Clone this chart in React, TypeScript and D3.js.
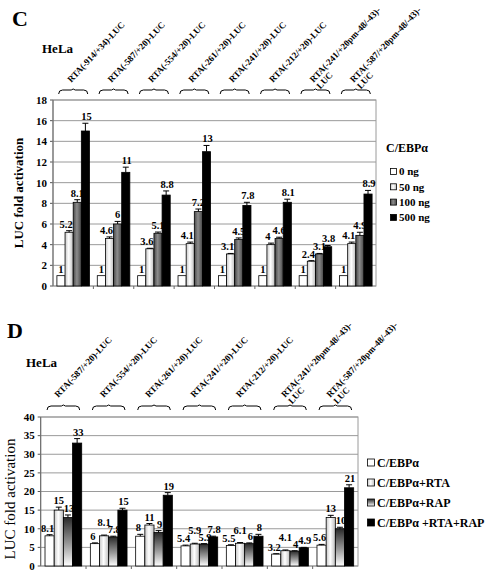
import React from "react";
import * as d3 from "d3";

const FONT = "Liberation Serif, Tinos, Times New Roman, Times, serif";

// Panel C data
const cGroups = [
  "RTA(-914/+34)-LUC",
  "RTA(-587/+20)-LUC",
  "RTA(-554/+20)-LUC",
  "RTA(-261/+20)-LUC",
  "RTA(-241/+20)-LUC",
  "RTA(-212/+20)-LUC",
  "RTA(-241/+20pm-48/-43)-|LUC",
  "RTA(-587/+20pm-48/-43)-|LUC",
];
const cSeries = ["0 ng", "50 ng", "100 ng", "500 ng"];
const c0 = [1, 1, 1, 1, 1, 1, 1, 1];
const c50 = [5.2, 4.6, 3.6, 4.1, 3.1, 4, 2.4, 4.1];
const c100 = [8.1, 6, 5.1, 7.2, 4.5, 4.6, 3.1, 4.9];
const c500 = [15, 11, 8.8, 13, 7.8, 8.1, 3.8, 8.9];
const c0Err = [0, 0, 0, 0, 0, 0, 0, 0];
const c50Err = [0.15, 0.15, 0.05, 0.15, 0.05, 0.15, 0.05, 0.15];
const c100Err = [0.25, 0.25, 0.12, 0.25, 0.15, 0.12, 0.05, 0.3];
const c500Err = [0.75, 0.5, 0.4, 0.6, 0.3, 0.3, 0.12, 0.35];
const cTicks = [0, 2, 4, 6, 8, 10, 12, 14, 16, 18];

// Panel D data
const dGroups = [
  "RTA(-587/+20)-LUC",
  "RTA(-554/+20)-LUC",
  "RTA(-261/+20)-LUC",
  "RTA(-241/+20)-LUC",
  "RTA(-212/+20)-LUC",
  "RTA(-241/+20pm-48/-43)-|LUC",
  "RTA(-587/+20pm-48/-43)-|LUC",
];
const dSeries = ["C/EBPα", "C/EBPα+RTA", "C/EBPα+RAP", "C/EBPα +RTA+RAP"];
const dA = [8.1, 6, 8, 5.4, 5.5, 3.2, 5.6];
const dB = [15, 8.1, 11, 5.9, 6.1, 4.1, 13];
const dC = [13, 7.8, 9, 5.9, 6, 4, 10];
const dD = [33, 15, 19, 7.8, 8, 4.9, 21];
const dAErr = [0.3, 0.2, 0.5, 0.2, 0.2, 0.1, 0.2];
const dBErr = [0.8, 0.2, 0.4, 0.2, 0.2, 0.2, 0.6];
const dCErr = [0.7, 0.2, 0.5, 0.1, 0.2, 0.1, 0.4];
const dDErr = [1.2, 0.5, 0.7, 0.2, 0.5, 0.1, 0.8];
const dTicks = [0, 5, 10, 15, 20, 25, 30, 35, 40];

type PanelProps = {
  groups: string[];
  series: string[];
  values: number[][];
  errs: number[][];
  ticks: number[];
  fills: string[];
  x0: number;
  x1: number;
  yTop: number;
  yBot: number;
  yMax: number;
  bracketY: number;
  labelY: number;
  labelDx: number;
  pad: number;
  valDx: number[];
  raise: (si: number, gi: number) => number;
};

const txt = { fontFamily: FONT, fontWeight: 700 as const };

function Panel(p: PanelProps) {
  const x = d3.scaleBand<string>().domain(p.groups).range([p.x0, p.x1]).padding(0);
  const xi = d3
    .scaleBand<string>()
    .domain(p.series)
    .range([0, x.bandwidth()])
    .paddingInner(0)
    .paddingOuter(p.pad);
  const y = d3.scaleLinear().domain([0, p.yMax]).range([p.yBot, p.yTop]);
  const bw = xi.bandwidth();
  const brW = x.bandwidth() * 0.72;
  return (
    <g>
      {p.ticks.map((t) => (
        <g key={t}>
          <line x1={p.x0} x2={p.x1} y1={y(t)} y2={y(t)} stroke="#9a9a9a" strokeWidth={1} />
          <line x1={p.x0 - 3} x2={p.x0} y1={y(t)} y2={y(t)} stroke="#555" />
          <text x={p.x0 - 6} y={y(t)} dy="0.35em" textAnchor="end" style={txt} fontSize={11}>
            {t}
          </text>
        </g>
      ))}
      <rect
        x={p.x0}
        y={p.yTop}
        width={p.x1 - p.x0}
        height={p.yBot - p.yTop}
        fill="none"
        stroke="#9a9a9a"
      />
      <line x1={p.x0} x2={p.x0} y1={p.yTop} y2={p.yBot} stroke="#666" />
      {p.groups.map((g, gi) => {
        const gx = x(g)!;
        const cx = gx + x.bandwidth() / 2;
        const lines = g.split("|");
        const L = cx - brW / 2;
        const R = cx + brW / 2;
        const by = p.bracketY;
        return (
          <g key={g}>
            {gi > 0 && <line x1={gx} x2={gx} y1={p.yBot} y2={p.yBot + 3} stroke="#666" />}
            <path
              d={`M${L},${by + 4} Q${L},${by} ${L + 4},${by} L${cx - 2},${by} L${cx},${by - 1} L${cx + 2},${by} L${R - 4},${by} Q${R},${by} ${R},${by + 4}`}
              fill="none"
              stroke="#000"
              strokeWidth={1}
            />
            <text
              transform={`translate(${cx + p.labelDx},${p.labelY}) rotate(-47)`}
              style={txt}
              fontSize={9}
            >
              {lines.map((l, li) => (
                <tspan key={li} x={0} dy={li === 0 ? 0 : "1.05em"}>
                  {l}
                </tspan>
              ))}
            </text>
            {p.series.map((s, si) => {
              const v = p.values[si][gi];
              const e = p.errs[si][gi];
              const bx = gx + xi(s)!;
              return (
                <g key={s}>
                  <rect
                    x={bx}
                    y={y(v)}
                    width={bw}
                    height={p.yBot - y(v)}
                    fill={p.fills[si]}
                    stroke="#000"
                    strokeWidth={0.8}
                  />
                  {e > 0 && (
                    <path
                      d={`M${bx + bw / 2},${y(v)} V${y(v + e)} M${bx + bw / 2 - 3},${y(v + e)} H${bx + bw / 2 + 3}`}
                      stroke="#000"
                      strokeWidth={1}
                      fill="none"
                    />
                  )}
                  <text
                    x={bx + bw / 2 + p.valDx[si]}
                    y={y(v + e) - 3 - p.raise(si, gi)}
                    textAnchor="middle"
                    style={txt}
                    fontSize={10.5}
                  >
                    {v}
                  </text>
                </g>
              );
            })}
          </g>
        );
      })}
    </g>
  );
}

export default function App() {
  const cFills = ["#fff", "url(#lightH)", "url(#darkH)", "#000"];
  const dFills = ["#fff", "url(#lightH)", "url(#rapV)", "#000"];
  return (
    <svg
      width={485}
      height={574}
      style={{ position: "absolute", left: 0, top: 0, background: "#fff" }}
    >
      <defs>
        <linearGradient id="lightH" x1="0" x2="1" y1="0" y2="0">
          <stop offset="0" stopColor="#c8c8c8" />
          <stop offset="0.45" stopColor="#ffffff" />
          <stop offset="1" stopColor="#bdbdbd" />
        </linearGradient>
        <linearGradient id="darkH" x1="0" x2="1" y1="0" y2="0">
          <stop offset="0" stopColor="#4a4a4a" />
          <stop offset="0.45" stopColor="#8c8c8c" />
          <stop offset="1" stopColor="#474747" />
        </linearGradient>
        <linearGradient id="rapV" x1="0" x2="0" y1="0" y2="1">
          <stop offset="0" stopColor="#2a2a2a" />
          <stop offset="0.55" stopColor="#9a9a9a" />
          <stop offset="1" stopColor="#ffffff" />
        </linearGradient>
      </defs>
      <rect width={485} height={574} fill="#fff" />

      {/* Panel C */}
      <text x={12} y={26} style={txt} fontSize={22}>
        C
      </text>
      <text x={42} y={53} style={txt} fontSize={13}>
        HeLa
      </text>
      <text transform="translate(23,193) rotate(-90)" textAnchor="middle" style={txt} fontSize={13}>
        LUC fold activation
      </text>
      <Panel
        groups={cGroups}
        series={cSeries}
        values={[c0, c50, c100, c500]}
        errs={[c0Err, c50Err, c100Err, c500Err]}
        ticks={cTicks}
        fills={cFills}
        x0={53}
        x1={376}
        yTop={100}
        yBot={286}
        yMax={18}
        bracketY={90}
        labelY={83}
        labelDx={-2}
        pad={0.48}
        valDx={[0, -3, 0, 1]}
        raise={() => 0}
      />
      <text x={386} y={152} style={txt} fontSize={12}>
        C/EBPα
      </text>
      {cSeries.map((s, i) => {
        const cy = 171.5 + i * 15.3;
        return (
          <g key={s}>
            <rect x={390.5} y={cy - 3} width={6} height={6} fill={cFills[i]} stroke="#000" strokeWidth={0.8} />
            <text x={399} y={cy} dy="0.35em" style={txt} fontSize={11}>
              {s}
            </text>
          </g>
        );
      })}

      {/* Panel D */}
      <text x={7} y={338} style={txt} fontSize={22}>
        D
      </text>
      <text x={26} y={367} style={txt} fontSize={13}>
        HeLa
      </text>
      <text
        transform="translate(15,499) rotate(-90)"
        textAnchor="middle"
        style={{ fontFamily: FONT }}
        fontSize={15}
      >
        LUC fold activation
      </text>
      <Panel
        groups={dGroups}
        series={dSeries}
        values={[dA, dB, dC, dD]}
        errs={[dAErr, dBErr, dCErr, dDErr]}
        ticks={dTicks}
        fills={dFills}
        x0={40.7}
        x1={358}
        yTop={417}
        yBot={566}
        yMax={40}
        bracketY={406}
        labelY={398}
        labelDx={-5}
        pad={0.47}
        valDx={[-2, 0, 1, 1]}
        raise={(si, gi) => (si === 1 && [1, 3, 4, 5].includes(gi) ? 6 : 0)}
      />
      {dSeries.map((s, i) => {
        const cy = 462.5 + i * 20;
        return (
          <g key={s}>
            <rect x={367.5} y={cy - 3.5} width={7} height={7} fill={dFills[i]} stroke="#000" strokeWidth={0.8} />
            <text x={377} y={cy} dy="0.35em" style={txt} fontSize={12}>
              {s}
            </text>
          </g>
        );
      })}
    </svg>
  );
}
